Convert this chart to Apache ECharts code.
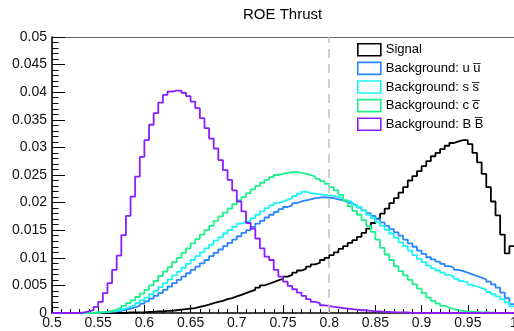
<!DOCTYPE html>
<html>
<head>
<meta charset="utf-8">
<script src="https://cdn.jsdelivr.net/npm/echarts@6/dist/echarts.min.js"></script>
<style>
html,body{margin:0;padding:0;background:#fff;}
#chart{width:514px;height:331px;}
</style>
</head>
<body>
<div id="chart"></div>
<script>
// Histogram binning: 100 bins of width 0.005 from 0.5 to 1.0
var binStart = 0.5;
var binWidth = 0.005;

var seriesNames = ['Signal', 'Background: u u\u0305', 'Background: s s\u0305', 'Background: c c\u0305', 'Background: B B\u0305'];
var seriesColors = ['#000000', '#2a85ff', '#1ef5f5', '#1ef08a', '#8a1eff'];

var signal = [
 0,0,0,0,0,0,0,0,0,0,
 0,0,0,0,0,0,0.0001,0.0001,0.0001,0.0001,
 0.0002,0.0002,0.0003,0.0003,0.0004,0.0004,0.0005,0.0006,0.0007,0.0008,
 0.0009,0.0011,0.0013,0.0015,0.0018,0.002,0.0022,0.0025,0.0027,0.003,
 0.0033,0.0036,0.0039,0.0042,0.0046,0.005,0.0053,0.0056,0.0059,0.0062,
 0.0066,0.0069,0.0073,0.0077,0.008,0.0084,0.0088,0.0091,0.0096,0.01,
 0.0105,0.011,0.0116,0.0121,0.0127,0.0132,0.0138,0.0145,0.0153,0.0163,
 0.0171,0.018,0.0189,0.0199,0.0208,0.0218,0.0228,0.024,0.0248,0.0257,
 0.0266,0.0275,0.0284,0.029,0.0297,0.0303,0.0308,0.0311,0.0313,0.0313,
 0.0306,0.029,0.0273,0.0252,0.0228,0.0202,0.0177,0.0142,0.0108,0.0121
];

var bkgUU = [
 0,0,0,0,0,0,0,0,0,0,
 0.0001,0.0001,0.0002,0.0003,0.0004,0.0006,0.0008,0.001,0.0013,0.0017,
 0.0021,0.0026,0.0031,0.0036,0.0042,0.0048,0.0054,0.006,0.0066,0.0072,
 0.0078,0.0084,0.009,0.0096,0.0103,0.0109,0.0115,0.0121,0.0127,0.0133,
 0.0139,0.0145,0.015,0.0156,0.0162,0.0167,0.0173,0.0178,0.0183,0.0188,
 0.0192,0.0195,0.0199,0.0202,0.0204,0.0206,0.0208,0.0209,0.021,0.0209,
 0.0208,0.0206,0.0204,0.0201,0.0198,0.0195,0.0191,0.0186,0.0181,0.0176,
 0.017,0.0164,0.0158,0.0152,0.0146,0.014,0.0133,0.0126,0.012,0.0113,
 0.0107,0.0101,0.0097,0.0093,0.0089,0.0085,0.0082,0.0078,0.0076,0.0073,
 0.007,0.0067,0.0064,0.0061,0.0057,0.0052,0.0046,0.0037,0.0027,0.0016
];

var bkgSS = [
 0,0,0,0,0,0,0,0,0,0.0001,
 0.0001,0.0002,0.0003,0.0004,0.0006,0.0008,0.0011,0.0014,0.0018,0.0023,
 0.0028,0.0034,0.004,0.0047,0.0054,0.0061,0.0068,0.0075,0.0082,0.0089,
 0.0096,0.0103,0.011,0.0117,0.0124,0.0131,0.0137,0.0144,0.015,0.0156,
 0.0162,0.0165,0.0167,0.0172,0.0178,0.0184,0.019,0.0195,0.0199,0.0202,
 0.0205,0.0208,0.0212,0.0216,0.022,0.0217,0.0216,0.0215,0.0214,0.0213,
 0.0212,0.021,0.0208,0.0204,0.0201,0.0196,0.0192,0.0186,0.0178,0.0172,
 0.0165,0.0158,0.0151,0.0144,0.0136,0.0128,0.0121,0.0113,0.0105,0.0098,
 0.0092,0.0086,0.0081,0.0077,0.0073,0.0069,0.0066,0.0062,0.0058,0.0055,
 0.0051,0.0048,0.0045,0.0042,0.0038,0.0034,0.003,0.0025,0.0019,0.0012
];

var bkgCC = [
 0,0,0,0,0,0,0,0,0,0.0001,
 0.0001,0.0002,0.0004,0.0006,0.0009,0.0013,0.0018,0.0023,0.0029,0.0035,
 0.0042,0.005,0.0058,0.0067,0.0075,0.0083,0.0092,0.01,0.0109,0.0117,
 0.0126,0.0134,0.0142,0.015,0.0158,0.0167,0.0175,0.0182,0.0189,0.0197,
 0.0204,0.021,0.0217,0.0224,0.023,0.0236,0.0241,0.0246,0.025,0.0252,
 0.0254,0.0255,0.0255,0.0254,0.0252,0.025,0.0247,0.0243,0.0239,0.0234,
 0.0228,0.0222,0.0214,0.0204,0.0193,0.0185,0.0178,0.0168,0.0158,0.0147,
 0.0133,0.0118,0.0106,0.0096,0.0085,0.0076,0.0068,0.006,0.0052,0.0044,
 0.0036,0.0028,0.0022,0.0017,0.0013,0.001,0.0007,0.0005,0.0004,0.0003,
 0.0002,0.0002,0.0001,0.0001,0.0001,0,0,0,0,0
];

var bkgBB = [
 0,0,0,0,0,0,0.0001,0.0003,0.0005,0.0011,
 0.002,0.0036,0.0054,0.0078,0.0104,0.0141,0.0176,0.0211,0.0247,0.0283,
 0.0313,0.0341,0.0362,0.0381,0.0395,0.0401,0.0403,0.0403,0.0399,0.0393,
 0.0383,0.0371,0.0353,0.0335,0.0316,0.0298,0.0277,0.0259,0.0241,0.0222,
 0.0202,0.0184,0.0163,0.0153,0.0135,0.0117,0.0102,0.0096,0.0078,0.0066,
 0.0057,0.0049,0.0043,0.0037,0.0031,0.0025,0.002,0.0018,0.0014,0.0013,
 0.0011,0.001,0.0009,0.0008,0.0007,0.0006,0.0005,0.0005,0.0004,0.0003,
 0.0003,0.0002,0.0002,0.0001,0.0001,0.0001,0.0001,0,0,0,
 0,0,0,0,0,0,0,0,0,0,
 0,0,0,0,0,0,0,0,0,0
];

var allValues = [signal, bkgUU, bkgSS, bkgCC, bkgBB];

function toSteps(vals) {
  var pts = [];
  for (var i = 0; i < vals.length; i++) {
    pts.push([+(binStart + i * binWidth).toFixed(4), vals[i]]);
  }
  pts.push([+(binStart + vals.length * binWidth).toFixed(4), vals[vals.length - 1]]);
  return pts;
}

var FONT = '"Liberation Sans", Arial, Helvetica, sans-serif';

var series = allValues.map(function (vals, idx) {
  var s = {
    name: seriesNames[idx],
    type: 'line',
    step: 'end',
    xAxisIndex: 0,
    yAxisIndex: 0,
    data: toSteps(vals),
    showSymbol: false,
    symbol: 'none',
    silent: true,
    animation: false,
    clip: true,
    lineStyle: { color: seriesColors[idx], width: 1.8 },
    itemStyle: { color: seriesColors[idx] }
  };
  if (idx === 0) {
    s.markLine = {
      silent: true,
      symbol: ['none', 'none'],
      label: { show: false },
      lineStyle: { color: '#c4c4c4', type: [9, 6], width: 1.6 },
      data: [{ xAxis: 0.8 }]
    };
  }
  return s;
});

var chart = echarts.init(document.getElementById('chart'), null, { renderer: 'canvas' });
chart.setOption({
  animation: false,
  backgroundColor: '#ffffff',
  title: {
    text: 'ROE Thrust',
    left: 243,
    top: 7,
    padding: 0,
    textStyle: { fontFamily: FONT, fontSize: 15, fontWeight: 'normal', color: '#000' }
  },
  legend: {
    orient: 'vertical',
    left: 352,
    top: 38,
    itemWidth: 23,
    itemHeight: 12,
    itemGap: 5,
    icon: 'rect',
    textStyle: { fontFamily: FONT, fontSize: 13, color: '#000' },
    selectedMode: false,
    data: seriesNames.map(function (n, i) {
      return {
        name: n,
        icon: 'rect',
        itemStyle: { color: 'rgba(255,255,255,0)', borderColor: seriesColors[i], borderWidth: 1.6 }
      };
    })
  },
  grid: { left: 52, right: 0, top: 37, bottom: 18, containLabel: false, outerBoundsMode: 'none' },
  xAxis: [{
    type: 'value',
    min: 0.5,
    max: 1.0,
    interval: 0.05,
    axisLine: { show: true, onZero: false, lineStyle: { color: '#000', width: 1.6 } },
    axisTick: { show: true, inside: true, length: 8, lineStyle: { color: '#000', width: 1 } },
    minorTick: { show: true, splitNumber: 5, length: 4, lineStyle: { color: '#000', width: 1 } },
    axisLabel: { fontFamily: FONT, fontSize: 14, color: '#111', margin: 3, hideOverlap: false },
    splitLine: { show: false }
  }, {
    type: 'value',
    position: 'top',
    min: 0.5,
    max: 1.0,
    axisLine: { show: true, onZero: false, lineStyle: { color: '#666', width: 1.2 } },
    axisTick: { show: false },
    axisLabel: { show: false },
    splitLine: { show: false }
  }],
  yAxis: [{
    type: 'value',
    min: 0,
    max: 0.05,
    interval: 0.005,
    axisLine: { show: true, lineStyle: { color: '#000', width: 1.6 } },
    axisTick: { show: true, inside: true, length: 13, lineStyle: { color: '#000', width: 1 } },
    minorTick: { show: true, splitNumber: 5, length: 6.5, lineStyle: { color: '#000', width: 1 } },
    axisLabel: { fontFamily: FONT, fontSize: 14, color: '#111', margin: 5 },
    splitLine: { show: false }
  }],
  series: series
});
</script>
</body>
</html>
